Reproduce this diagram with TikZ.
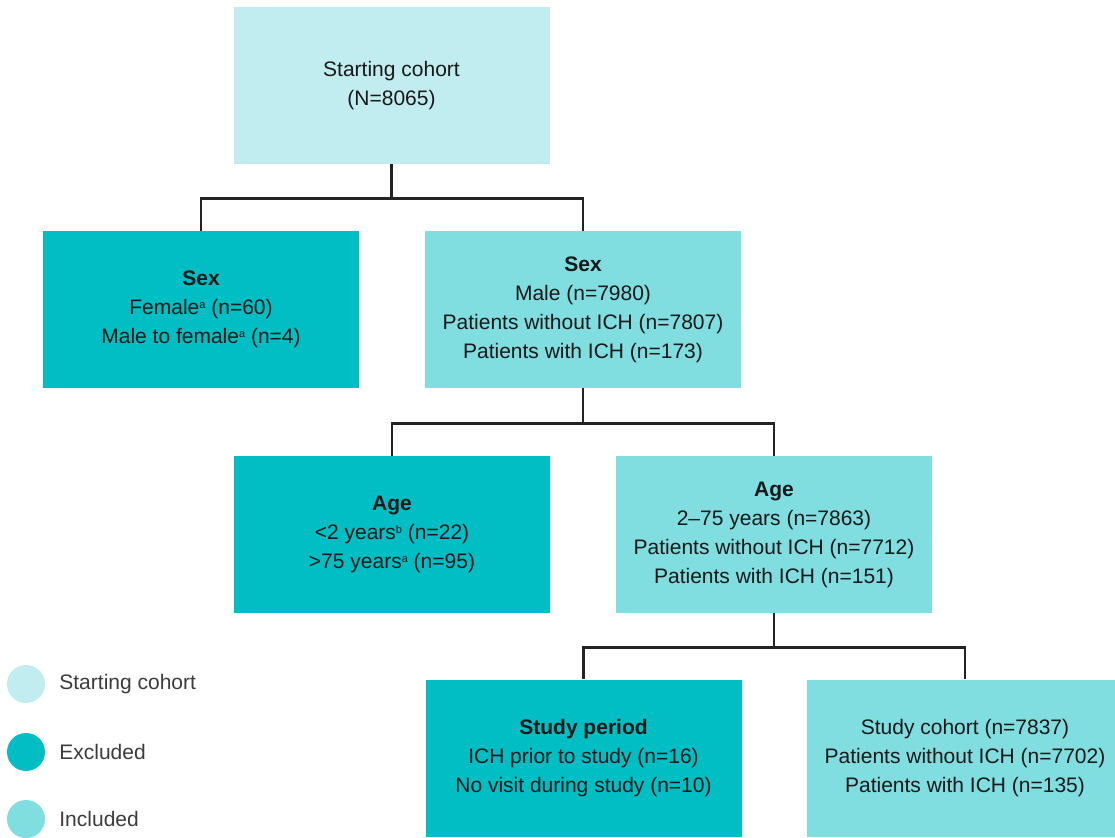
\documentclass[tikz,border=0pt]{standalone}
\usepackage{fontspec}
\setmainfont{Liberation Sans}
\usepackage{xcolor}
\definecolor{startfill}{RGB}{193,237,240}
\definecolor{exclfill}{RGB}{0,190,196}
\definecolor{inclfill}{RGB}{128,221,224}
\definecolor{linkgray}{RGB}{35,35,35}
\definecolor{textgray}{RGB}{25,25,25}
\definecolor{legendgray}{RGB}{60,60,60}
\usepackage{tikz}
\usetikzlibrary{calc,positioning}
\newcommand{\fnmark}[1]{\raisebox{6pt}{\fontsize{11}{11}\selectfont #1}}

\begin{document}
\begin{tikzpicture}[x=1pt,y=-1pt]
        % Parameters
        \def\bw{316}
        \def\bh{157}
        % Styles
        \tikzset{
          box/.style={minimum width=\bw pt,minimum height=\bh pt,inner sep=0pt,
            align=center,text=textgray,font=\fontsize{21}{29}\selectfont},
          startbox/.style={box,fill=startfill},
          exclbox/.style={box,fill=exclfill},
          inclbox/.style={box,fill=inclfill},
          link/.style={line width=2.8pt,draw=linkgray},
          legdot/.style={circle,minimum size=38pt,inner sep=0pt},
          legtext/.style={inner sep=0pt,text=legendgray,font=\fontsize{21}{25}\selectfont}
        }
        % Canvas
        \clip (0,0) rectangle (1115,837);
        \fill[white] (0,0) rectangle (1115,837);
        % Boxes
        \node[startbox] (start) at (391.5,85.5) {Starting cohort\\(N=8065)};
        \node[exclbox] (sexex) at (201,309.5)
          {\textbf{Sex}\\Female\fnmark{a} (n=60)\\Male to female\fnmark{a} (n=4)};
        \node[inclbox] (sexin) at (583,309.5)
          {\textbf{Sex}\\Male (n=7980)\\Patients without ICH (n=7807)\\Patients with ICH (n=173)};
        \node[exclbox] (ageex) at (392,534.5)
          {\textbf{Age}\\<2 years\fnmark{b} (n=22)\\>75 years\fnmark{a} (n=95)};
        \node[inclbox] (agein) at (774,534.5)
          {\textbf{Age}\\2–75 years (n=7863)\\Patients without ICH (n=7712)\\Patients with ICH (n=151)};
        \node[exclbox] (periodex) at (583.5,758)
          {\textbf{Study period}\\ICH prior to study (n=16)\\No visit during study (n=10)};
        \node[inclbox] (cohort) at (965,758)
          {Study cohort (n=7837)\\Patients without ICH (n=7702)\\Patients with ICH (n=135)};
        % Connectors
        \draw[link] (start.south) -- ++(0,34) -| (sexex.north);
        \draw[link] (start.south) -- ++(0,34) -| (sexin.north);
        \draw[link] (sexin.south) -- ++(0,35) -| (ageex.north);
        \draw[link] (sexin.south) -- ++(0,35) -| (agein.north);
        \draw[link] (agein.south) -- ++(0,34) -| (periodex.north);
        \draw[link] (agein.south) -- ++(0,34) -| (cohort.north);
        % Legend
        \node[legdot,fill=startfill] (legstart) at (26,684) {};
        \node[legdot,fill=exclfill] (legexcl) at (26,752) {};
        \node[legdot,fill=inclfill] (legincl) at (26,819) {};
        \node[legtext,right=14pt of legstart] (legstarttxt) {Starting cohort};
        \node[legtext,right=14pt of legexcl] (legexcltxt) {Excluded};
        \node[legtext,right=14pt of legincl] (leginclxt) {Included};
    \end{tikzpicture}
\end{document}
